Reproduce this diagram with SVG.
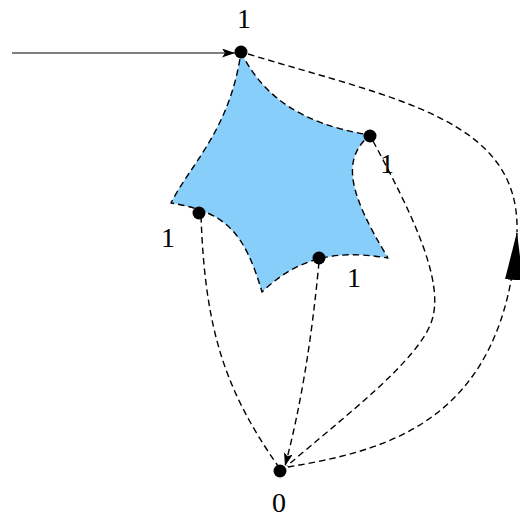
<svg xmlns="http://www.w3.org/2000/svg" width="520" height="519" viewBox="0 0 520 519">
<style>
.d{fill:none;stroke:#000;stroke-width:1.4;stroke-dasharray:6.5 4}
.n{fill:#000}
.t{font-family:"Liberation Serif","DejaVu Serif",serif;font-size:28px;text-anchor:middle;fill:#000}
</style>
<defs>
<marker id="big" markerUnits="userSpaceOnUse" markerWidth="48" markerHeight="18" refX="48" refY="9" orient="auto">
<path d="M0,0 L48,9 L0,18 z" fill="#000"/>
</marker>
<marker id="sm" markerUnits="userSpaceOnUse" markerWidth="13" markerHeight="9" refX="13" refY="4.5" orient="auto">
<path d="M0,0 L13,4.5 L0,9 L3,4.5 z" fill="#000"/>
</marker>
</defs>
<rect width="520" height="519" fill="#fff"/>
<g id="shape">
<path d="M241,52 C262,95 300,124 370,135 C340,160 350,195 388,258 C350,252 305,250 262,292 C245,235 228,212 171,203 C190,165 230,130 241,52 Z" fill="#87CEFA" stroke="#000" stroke-width="1.4" stroke-dasharray="6.5 4" stroke-linejoin="round"/>
</g>
<g id="connectors">
<line x1="12" y1="53" x2="235" y2="53" stroke="#000" stroke-width="1.2" marker-end="url(#sm)"/>
<path class="d" d="M248,54 C400,100 520,120 517,232"/>
<path class="d" d="M288,467 C390,450 505,420 517,232" marker-end="url(#big)"/>
<path class="d" d="M373,141 C410,210 445,280 432,320 C420,360 340,420 287,466"/>
<path class="d" d="M319,262 Q308,380 285,466" marker-end="url(#sm)"/>
<path class="d" d="M201,216 C205,330 225,390 278,466"/>
</g>
<g id="n_top"><circle class="n" cx="241" cy="52" r="6.5"/><text class="t" x="244" y="27.5">1</text></g>
<g id="n_right"><circle class="n" cx="370" cy="136" r="6.5"/><text class="t" x="387" y="173">1</text></g>
<g id="n_left"><circle class="n" cx="199" cy="213" r="6.5"/><text class="t" x="168" y="246.5">1</text></g>
<g id="n_bottom"><circle class="n" cx="319" cy="258" r="6.5"/><text class="t" x="354" y="287">1</text></g>
<g id="n_zero"><circle class="n" cx="280" cy="471" r="6.5"/><text class="t" x="279" y="512">0</text></g>
</svg>
